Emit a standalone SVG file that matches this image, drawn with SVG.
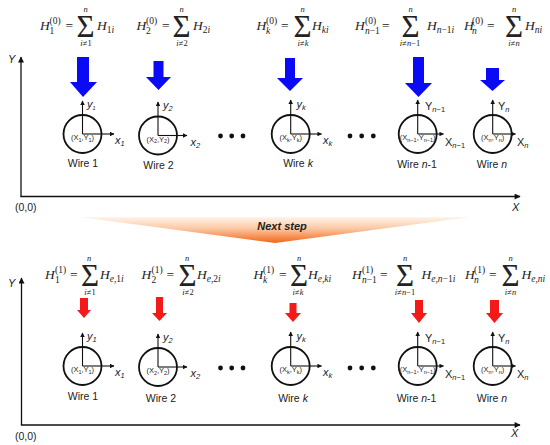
<svg xmlns="http://www.w3.org/2000/svg" width="550" height="445" viewBox="0 0 550 445">
<defs>
<style>
.m{font-family:"Liberation Serif",serif;font-size:13.5px;font-style:italic;fill:#222}
.u{font-style:normal}
.s{font-size:9.5px}
.ss{font-size:8.5px}
.sig{font-family:"Liberation Serif",serif;font-size:31px;fill:#222}
.a{font-family:"Liberation Sans",Arial,sans-serif;fill:#222}
.lbl{font-size:10.5px}
.ax{font-size:11px;font-style:italic}
.ci{font-size:7.5px}
.cs{font-size:5.5px}
.axl{stroke:#111;stroke-width:1.3;fill:none}
.wax{stroke:#111;stroke-width:1.1;fill:none}
.wc{stroke:#111;stroke-width:1.8;fill:none}
.blue{fill:#0A0AF5}
.red{fill:#F51A1A}
.dot{fill:#111}
</style>
<marker id="ah" viewBox="0 0 10 10" refX="9" refY="5" markerWidth="7" markerHeight="6" orient="auto" markerUnits="userSpaceOnUse"><path d="M0,0 L10,5 L0,10 z" fill="#111"/></marker>
<marker id="ahs" viewBox="0 0 10 10" refX="9" refY="5" markerWidth="5" markerHeight="4.5" orient="auto" markerUnits="userSpaceOnUse"><path d="M0,0 L10,5 L0,10 z" fill="#111"/></marker>
<linearGradient id="grad" x1="0" y1="0" x2="0" y2="1">
<stop offset="0" stop-color="#FFF4EC"/>
<stop offset="0.45" stop-color="#FCC7A2"/>
<stop offset="1" stop-color="#F26516"/>
</linearGradient>
</defs>

<!-- coordinate axes -->
<g id="axes-top">
<line class="axl" x1="21" y1="196.5" x2="21" y2="57" marker-end="url(#ah)"/>
<line class="axl" x1="20.4" y1="196.5" x2="520" y2="196.5" marker-end="url(#ah)"/>
<text class="a ax" x="8" y="63">Y</text>
<text class="a ax" x="512" y="211">X</text>
<text class="a lbl" x="15" y="211">(0,0)</text>
</g>
<g id="axes-bottom">
<line class="axl" x1="21.5" y1="425" x2="21.5" y2="278" marker-end="url(#ah)"/>
<line class="axl" x1="20.9" y1="425" x2="520" y2="425" marker-end="url(#ah)"/>
<text class="a ax" x="8" y="287">Y</text>
<text class="a ax" x="511" y="437">X</text>
<text class="a lbl" x="15" y="440">(0,0)</text>
</g>

<!-- banner -->
<g id="next-step">
<polygon points="80,217 470,217 275,243" fill="url(#grad)"/>
<text class="a" x="282" y="230" text-anchor="middle" font-size="11px" font-weight="bold" font-style="italic" fill="#111">Next step</text>
</g>

<!-- top equations -->
<g id="eq-top-1">
<text class="m" x="40" y="29.5">H</text>
<text class="m s u" x="49.5" y="24">(0)</text>
<text class="m s u" x="49.5" y="34">1</text>
<text class="m u" x="65.5" y="29.5">=</text>
<text class="sig" x="85.5" y="36.5" text-anchor="middle">Σ</text>
<text class="m ss" x="85.5" y="12" text-anchor="middle">n</text>
<text class="m ss" x="86" y="45.5" text-anchor="middle">i<tspan class="u">≠1</tspan></text>
<text class="m" x="97" y="29.5">H<tspan class="s u" dy="3">1</tspan><tspan class="s" >i</tspan></text>
</g>
<g id="eq-top-2">
<text class="m" x="136.5" y="29.5">H</text>
<text class="m s u" x="146" y="24">(0)</text>
<text class="m s u" x="146" y="34">2</text>
<text class="m u" x="162" y="29.5">=</text>
<text class="sig" x="181.5" y="36.5" text-anchor="middle">Σ</text>
<text class="m ss" x="181.5" y="12" text-anchor="middle">n</text>
<text class="m ss" x="182" y="45.5" text-anchor="middle">i<tspan class="u">≠2</tspan></text>
<text class="m" x="193" y="29.5">H<tspan class="s u" dy="3">2</tspan><tspan class="s">i</tspan></text>
</g>
<g id="eq-top-k">
<text class="m" x="256.5" y="29.5">H</text>
<text class="m s u" x="266" y="24">(0)</text>
<text class="m s" x="266" y="34">k</text>
<text class="m u" x="281" y="29.5">=</text>
<text class="sig" x="302.5" y="36.5" text-anchor="middle">Σ</text>
<text class="m ss" x="302.5" y="12" text-anchor="middle">n</text>
<text class="m ss" x="303" y="45.5" text-anchor="middle">i<tspan class="u">≠</tspan>k</text>
<text class="m" x="312" y="29.5">H<tspan class="s" dy="3">ki</tspan></text>
</g>
<g id="eq-top-n1">
<text class="m" x="355" y="29.5">H</text>
<text class="m s u" x="365" y="24">(0)</text>
<text class="m s" x="365" y="34">n<tspan class="u">−1</tspan></text>
<text class="m u" x="382" y="29.5">=</text>
<text class="sig" x="410.5" y="36.5" text-anchor="middle">Σ</text>
<text class="m ss" x="410.5" y="12" text-anchor="middle">n</text>
<text class="m ss" x="410" y="45.5" text-anchor="middle">i<tspan class="u">≠</tspan>n<tspan class="u">−1</tspan></text>
<text class="m" x="427" y="29.5">H<tspan class="s" dy="3">n</tspan><tspan class="s u">−1</tspan><tspan class="s">i</tspan></text>
</g>
<g id="eq-top-n">
<text class="m" x="464" y="29.5">H</text>
<text class="m s u" x="472" y="24">(0)</text>
<text class="m s" x="472" y="34">n</text>
<text class="m u" x="487" y="29.5">=</text>
<text class="sig" x="514" y="36.5" text-anchor="middle">Σ</text>
<text class="m ss" x="514" y="12" text-anchor="middle">n</text>
<text class="m ss" x="514" y="45.5" text-anchor="middle">i<tspan class="u">≠</tspan>n</text>
<text class="m" x="525" y="29.5">H<tspan class="s" dy="3">ni</tspan></text>
</g>

<!-- bottom equations -->
<g id="eq-bot-1">
<text class="m" x="45" y="278.5">H</text>
<text class="m s u" x="55" y="273">(1)</text>
<text class="m s u" x="55" y="283">1</text>
<text class="m u" x="70" y="278.5">=</text>
<text class="sig" x="90" y="285.5" text-anchor="middle">Σ</text>
<text class="m ss" x="89" y="261" text-anchor="middle">n</text>
<text class="m ss" x="90" y="294.5" text-anchor="middle">i<tspan class="u">≠1</tspan></text>
<text class="m" x="100" y="278.5">H<tspan class="s" dy="3">e<tspan class="u">,1</tspan>i</tspan></text>
</g>
<g id="eq-bot-2">
<text class="m" x="141.5" y="278.5">H</text>
<text class="m s u" x="151.5" y="273">(1)</text>
<text class="m s u" x="151.5" y="283">2</text>
<text class="m u" x="166.5" y="278.5">=</text>
<text class="sig" x="187.5" y="285.5" text-anchor="middle">Σ</text>
<text class="m ss" x="187" y="261" text-anchor="middle">n</text>
<text class="m ss" x="188" y="294.5" text-anchor="middle">i<tspan class="u">≠2</tspan></text>
<text class="m" x="197" y="278.5">H<tspan class="s" dy="3">e<tspan class="u">,2</tspan>i</tspan></text>
</g>
<g id="eq-bot-k">
<text class="m" x="253.5" y="278.5">H</text>
<text class="m s u" x="263" y="273">(1)</text>
<text class="m s" x="263" y="283">k</text>
<text class="m u" x="279" y="278.5">=</text>
<text class="sig" x="299" y="285.5" text-anchor="middle">Σ</text>
<text class="m ss" x="299" y="261" text-anchor="middle">n</text>
<text class="m ss" x="298" y="294.5" text-anchor="middle">i<tspan class="u">≠</tspan>k</text>
<text class="m" x="308" y="278.5">H<tspan class="s" dy="3">e<tspan class="u">,</tspan>ki</tspan></text>
</g>
<g id="eq-bot-n1">
<text class="m" x="352" y="278.5">H</text>
<text class="m s u" x="362" y="273">(1)</text>
<text class="m s" x="362" y="283">n<tspan class="u">−1</tspan></text>
<text class="m u" x="380" y="278.5">=</text>
<text class="sig" x="405" y="285.5" text-anchor="middle">Σ</text>
<text class="m ss" x="405" y="261" text-anchor="middle">n</text>
<text class="m ss" x="405" y="294.5" text-anchor="middle">i<tspan class="u">≠</tspan>n<tspan class="u">−1</tspan></text>
<text class="m" x="421.5" y="278.5">H<tspan class="s" dy="3">e<tspan class="u">,</tspan>n<tspan class="u">−1</tspan>i</tspan></text>
</g>
<g id="eq-bot-n">
<text class="m" x="465" y="278.5">H</text>
<text class="m s u" x="474" y="273">(1)</text>
<text class="m s" x="474" y="283">n</text>
<text class="m u" x="489" y="278.5">=</text>
<text class="sig" x="510.5" y="285.5" text-anchor="middle">Σ</text>
<text class="m ss" x="510.5" y="261" text-anchor="middle">n</text>
<text class="m ss" x="510.5" y="294.5" text-anchor="middle">i<tspan class="u">≠</tspan>n</text>
<text class="m" x="521.5" y="278.5">H<tspan class="s" dy="3">e<tspan class="u">,</tspan>ni</tspan></text>
</g>

<!-- field arrows (connectors) -->
<g id="connectors">
<polygon class="blue" points="77,57 89,57 89,82 97,82 83,97 70,82 77,82"/>
<polygon class="blue" points="153.5,61 163.5,61 163.5,77 171,77 158.5,90 146,77 153.5,77"/>
<polygon class="blue" points="285,58 295,58 295,78 303,78 290,91 277,78 285,78"/>
<polygon class="blue" points="413,57 424,57 424,83 432,83 418.5,97 405,83 413,83"/>
<polygon class="blue" points="486,68 499,68 499,80 505,80 492.5,91 480,80 486,80"/>
<polygon class="red" points="80,298 88,298 88,310 91,310 84,318 77,310 80,310"/>
<polygon class="red" points="156,297 163,297 163,313 167,313 159.5,321 152,313 156,313"/>
<polygon class="red" points="289.5,303 296.5,303 296.5,313 301,313 293,322 285,313 289.5,313"/>
<polygon class="red" points="415,300 423,300 423,313 427,313 419,323 411,313 415,313"/>
<polygon class="red" points="490,300 499,300 499,313 503,313 494.5,323 486,313 490,313"/>
</g>

<!-- top wires -->
<g id="wire-top-1">
<circle class="wc" cx="82.5" cy="134" r="19"/>
<line class="wax" x1="82.5" y1="134" x2="82.5" y2="101" marker-end="url(#ahs)"/>
<line class="wax" x1="82.5" y1="134" x2="114" y2="134" marker-end="url(#ahs)"/>
<text class="a ax" x="87" y="108">y<tspan class="cs" font-size="7.5px" dy="2">1</tspan></text>
<text class="a ax" x="115" y="144">x<tspan font-size="7.5px" dy="2">1</tspan></text>
<text class="a ci" x="82.5" y="140" text-anchor="middle">(X<tspan class="cs" dy="1.5">1</tspan><tspan dy="-1.5">,Y</tspan><tspan class="cs" dy="1.5">1</tspan><tspan dy="-1.5">)</tspan></text>
<text class="a lbl" x="83" y="167" text-anchor="middle">Wire 1</text>
</g>
<g id="wire-top-2">
<circle class="wc" cx="158" cy="135.5" r="19"/>
<line class="wax" x1="158" y1="135.5" x2="158" y2="102" marker-end="url(#ahs)"/>
<line class="wax" x1="158" y1="135.5" x2="187" y2="135.5" marker-end="url(#ahs)"/>
<text class="a ax" x="163" y="109">y<tspan font-size="7.5px" dy="2">2</tspan></text>
<text class="a ax" x="190.5" y="145.5">x<tspan font-size="7.5px" dy="2">2</tspan></text>
<text class="a ci" x="158" y="141.5" text-anchor="middle">(X<tspan class="cs" dy="1.5">2</tspan><tspan dy="-1.5">,Y</tspan><tspan class="cs" dy="1.5">2</tspan><tspan dy="-1.5">)</tspan></text>
<text class="a lbl" x="158.5" y="168.5" text-anchor="middle">Wire 2</text>
</g>
<g id="dots-top-1">
<circle class="dot" cx="220.5" cy="136" r="2.4"/>
<circle class="dot" cx="231.7" cy="136" r="2.4"/>
<circle class="dot" cx="243" cy="136" r="2.4"/>
</g>
<g id="wire-top-k">
<circle class="wc" cx="290.7" cy="134" r="19"/>
<line class="wax" x1="290.7" y1="134" x2="290.7" y2="100" marker-end="url(#ahs)"/>
<line class="wax" x1="290.7" y1="134" x2="321.5" y2="134" marker-end="url(#ahs)"/>
<text class="a ax" x="296.5" y="108">y<tspan font-size="7.5px" dy="2">k</tspan></text>
<text class="a ax" x="323" y="144">x<tspan font-size="7.5px" dy="2">k</tspan></text>
<text class="a ci" x="290.7" y="140" text-anchor="middle">(X<tspan class="cs" dy="1.5">k</tspan><tspan dy="-1.5">,Y</tspan><tspan class="cs" dy="1.5">k</tspan><tspan dy="-1.5">)</tspan></text>
<text class="a lbl" x="298" y="167" text-anchor="middle">Wire <tspan font-style="italic">k</tspan></text>
</g>
<g id="dots-top-2">
<circle class="dot" cx="350" cy="136" r="2.4"/>
<circle class="dot" cx="361.7" cy="136" r="2.4"/>
<circle class="dot" cx="373.3" cy="136" r="2.4"/>
</g>
<g id="wire-top-n1">
<circle class="wc" cx="417.7" cy="134" r="19"/>
<line class="wax" x1="417.7" y1="134" x2="417.7" y2="100" marker-end="url(#ahs)"/>
<line class="wax" x1="417.7" y1="134" x2="443.5" y2="134" marker-end="url(#ahs)"/>
<text class="a" font-size="11px" x="425" y="110">Y<tspan font-size="7.5px" dy="2"><tspan font-style="italic">n</tspan>−1</tspan></text>
<text class="a" font-size="11px" x="445" y="145.5">X<tspan font-size="7.5px" dy="2"><tspan font-style="italic">n</tspan>−1</tspan></text>
<text class="a ci" x="417.7" y="140" text-anchor="middle">(X<tspan class="cs" dy="1.5">n−1</tspan><tspan dy="-1.5">,Y</tspan><tspan class="cs" dy="1.5">n−1</tspan><tspan dy="-1.5">)</tspan></text>
<text class="a lbl" x="417" y="167.5" text-anchor="middle">Wire <tspan font-style="italic">n</tspan>-1</text>
</g>
<g id="wire-top-n">
<circle class="wc" cx="492.7" cy="134" r="19"/>
<line class="wax" x1="492.7" y1="134" x2="492.7" y2="100" marker-end="url(#ahs)"/>
<line class="wax" x1="492.7" y1="134" x2="515.5" y2="134" marker-end="url(#ahs)"/>
<text class="a" font-size="11px" x="498" y="110">Y<tspan font-size="7.5px" dy="2" font-style="italic">n</tspan></text>
<text class="a" font-size="11px" x="517" y="145.5">X<tspan font-size="7.5px" dy="2" font-style="italic">n</tspan></text>
<text class="a ci" x="492.7" y="140" text-anchor="middle">(X<tspan class="cs" dy="1.5">n</tspan><tspan dy="-1.5">,Y</tspan><tspan class="cs" dy="1.5">n</tspan><tspan dy="-1.5">)</tspan></text>
<text class="a lbl" x="492" y="167.5" text-anchor="middle">Wire <tspan font-style="italic">n</tspan></text>
</g>

<!-- bottom wires -->
<g id="wire-bot-1">
<circle class="wc" cx="82.5" cy="366" r="19"/>
<line class="wax" x1="82.5" y1="366" x2="82.5" y2="333" marker-end="url(#ahs)"/>
<line class="wax" x1="82.5" y1="366" x2="114" y2="366" marker-end="url(#ahs)"/>
<text class="a ax" x="87" y="340">y<tspan font-size="7.5px" dy="2">1</tspan></text>
<text class="a ax" x="115" y="376">x<tspan font-size="7.5px" dy="2">1</tspan></text>
<text class="a ci" x="82.5" y="372" text-anchor="middle">(X<tspan class="cs" dy="1.5">1</tspan><tspan dy="-1.5">,Y</tspan><tspan class="cs" dy="1.5">1</tspan><tspan dy="-1.5">)</tspan></text>
<text class="a lbl" x="83" y="400" text-anchor="middle">Wire 1</text>
</g>
<g id="wire-bot-2">
<circle class="wc" cx="158" cy="367" r="19"/>
<line class="wax" x1="158" y1="367" x2="158" y2="334" marker-end="url(#ahs)"/>
<line class="wax" x1="158" y1="367" x2="187" y2="367" marker-end="url(#ahs)"/>
<text class="a ax" x="163" y="341">y<tspan font-size="7.5px" dy="2">2</tspan></text>
<text class="a ax" x="190.5" y="377">x<tspan font-size="7.5px" dy="2">2</tspan></text>
<text class="a ci" x="158" y="373" text-anchor="middle">(X<tspan class="cs" dy="1.5">2</tspan><tspan dy="-1.5">,Y</tspan><tspan class="cs" dy="1.5">2</tspan><tspan dy="-1.5">)</tspan></text>
<text class="a lbl" x="161" y="402" text-anchor="middle">Wire 2</text>
</g>
<g id="dots-bot-1">
<circle class="dot" cx="220.5" cy="368" r="2.4"/>
<circle class="dot" cx="231.7" cy="368" r="2.4"/>
<circle class="dot" cx="243" cy="368" r="2.4"/>
</g>
<g id="wire-bot-k">
<circle class="wc" cx="290.7" cy="366" r="19"/>
<line class="wax" x1="290.7" y1="366" x2="290.7" y2="332" marker-end="url(#ahs)"/>
<line class="wax" x1="290.7" y1="366" x2="321.5" y2="366" marker-end="url(#ahs)"/>
<text class="a ax" x="296.5" y="340">y<tspan font-size="7.5px" dy="2">k</tspan></text>
<text class="a ax" x="323" y="376">x<tspan font-size="7.5px" dy="2">k</tspan></text>
<text class="a ci" x="290.7" y="372" text-anchor="middle">(X<tspan class="cs" dy="1.5">k</tspan><tspan dy="-1.5">,Y</tspan><tspan class="cs" dy="1.5">k</tspan><tspan dy="-1.5">)</tspan></text>
<text class="a lbl" x="293" y="402" text-anchor="middle">Wire <tspan font-style="italic">k</tspan></text>
</g>
<g id="dots-bot-2">
<circle class="dot" cx="350" cy="368" r="2.4"/>
<circle class="dot" cx="361.7" cy="368" r="2.4"/>
<circle class="dot" cx="373.3" cy="368" r="2.4"/>
</g>
<g id="wire-bot-n1">
<circle class="wc" cx="417.7" cy="366" r="19"/>
<line class="wax" x1="417.7" y1="366" x2="417.7" y2="332" marker-end="url(#ahs)"/>
<line class="wax" x1="417.7" y1="366" x2="443.5" y2="366" marker-end="url(#ahs)"/>
<text class="a" font-size="11px" x="425" y="342">Y<tspan font-size="7.5px" dy="2"><tspan font-style="italic">n</tspan>−1</tspan></text>
<text class="a" font-size="11px" x="445" y="377.5">X<tspan font-size="7.5px" dy="2"><tspan font-style="italic">n</tspan>−1</tspan></text>
<text class="a ci" x="417.7" y="372" text-anchor="middle">(X<tspan class="cs" dy="1.5">n−1</tspan><tspan dy="-1.5">,Y</tspan><tspan class="cs" dy="1.5">n−1</tspan><tspan dy="-1.5">)</tspan></text>
<text class="a lbl" x="416.5" y="402" text-anchor="middle">Wire <tspan font-style="italic">n</tspan>-1</text>
</g>
<g id="wire-bot-n">
<circle class="wc" cx="492.7" cy="366" r="19"/>
<line class="wax" x1="492.7" y1="366" x2="492.7" y2="332" marker-end="url(#ahs)"/>
<line class="wax" x1="492.7" y1="366" x2="515.5" y2="366" marker-end="url(#ahs)"/>
<text class="a" font-size="11px" x="498" y="342">Y<tspan font-size="7.5px" dy="2" font-style="italic">n</tspan></text>
<text class="a" font-size="11px" x="517" y="377.5">X<tspan font-size="7.5px" dy="2" font-style="italic">n</tspan></text>
<text class="a ci" x="492.7" y="372" text-anchor="middle">(X<tspan class="cs" dy="1.5">n</tspan><tspan dy="-1.5">,Y</tspan><tspan class="cs" dy="1.5">n</tspan><tspan dy="-1.5">)</tspan></text>
<text class="a lbl" x="492" y="402" text-anchor="middle">Wire <tspan font-style="italic">n</tspan></text>
</g>
</svg>
